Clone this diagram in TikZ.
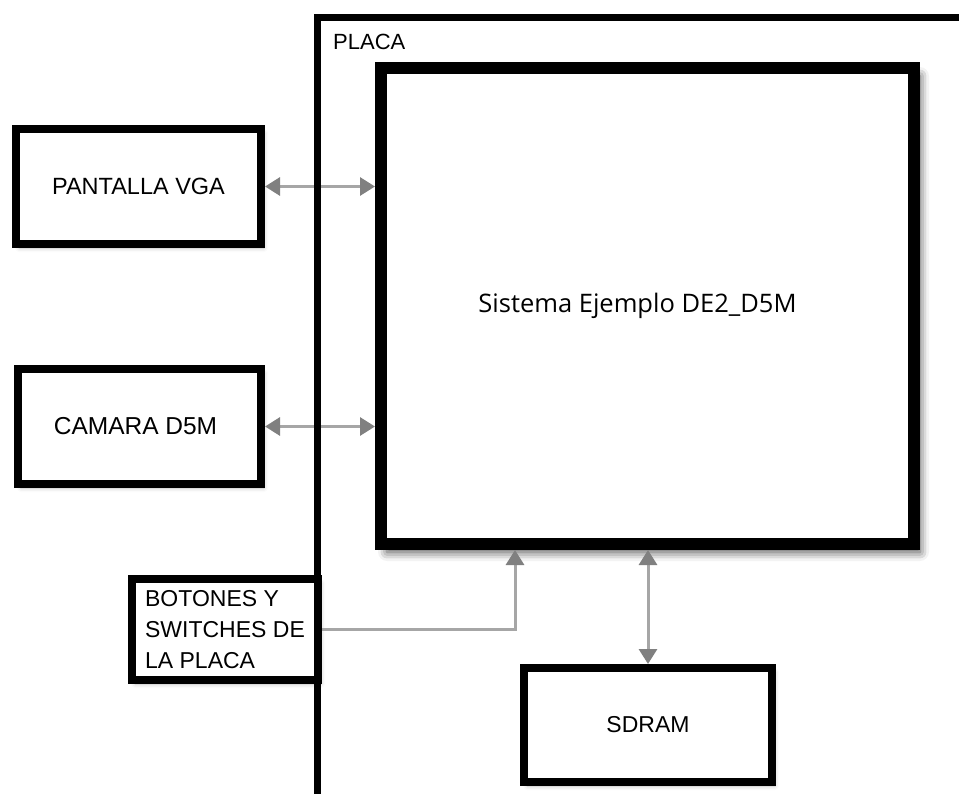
\documentclass[tikz,border=0pt]{standalone}
\usepackage{fontspec}
\setmainfont{Liberation Sans}
\newfontfamily\sistfont{Open Sans}
\usetikzlibrary{arrows.meta,shadows.blur}

\begin{document}
\begin{tikzpicture}[x=1pt, y=-1pt,
    bloque/.style={rectangle, draw=black, line width=8pt, fill=white, inner sep=0pt,
      font=\fontsize{23.5}{31}\selectfont,
      blur shadow={shadow xshift=3pt, shadow yshift=-4pt, shadow blur radius=4pt, shadow opacity=25}},
    flecha/.style={draw=black!35, line width=3pt, -{Triangle[length=15pt, width=18pt, color=black!50]}},
    dobleflecha/.style={draw=black!35, line width=3pt,
      {Triangle[length=15pt, width=18pt, color=black!50]}-{Triangle[length=15pt, width=18pt, color=black!50]}}]

  \useasboundingbox (0,0) rectangle (959,794);
  \clip (0,0) rectangle (959,794);

  % Bloque principal dentro de la placa
  \node[bloque, line width=12pt, minimum width=533pt, minimum height=476pt,
    font=\sistfont\fontsize{25.5}{30}\selectfont,
    blur shadow={shadow xshift=6pt, shadow yshift=-8pt, shadow blur radius=9pt, shadow opacity=40}]
    (sistema) at (647.5,306) {Sistema Ejemplo DE2\_D5M\hspace*{20pt}};

  % Bloques externos
  \node[bloque, minimum width=245pt, minimum height=115pt] (vga) at (138.5,186.5) {PANTALLA VGA};
  \node[bloque, minimum width=243pt, minimum height=115pt, font=\fontsize{24.5}{31}\selectfont] (camara) at (139.5,426.5)
    {\hspace*{-8pt}CAMARA D5M};
  \node[bloque, minimum width=186pt, minimum height=101pt, align=left, font=\fontsize{23}{31}\selectfont] (botones) at (225,629.5)
    {BOTONES Y\\SWITCHES DE\\LA PLACA};
  \node[bloque, minimum width=248pt, minimum height=114pt, font=\fontsize{23}{31}\selectfont] (sdram) at (648,725) {SDRAM};

  % Conexiones
  \draw[dobleflecha] (vga.east) -- (vga.east -| sistema.west);
  \draw[dobleflecha] (camara.east) -- (camara.east -| sistema.west);
  \draw[flecha] (botones.east) -| ([xshift=-132.5pt]sistema.south);
  \draw[dobleflecha] (sdram.north) -- (sdram.north |- sistema.south);

  % Borde de la placa
  \draw[line width=7pt] (317,800) |- (970,18);
  \node[anchor=west, inner sep=0pt, font=\fontsize{22}{26}\selectfont] (placa) at (333,42) {PLACA};

\end{tikzpicture}
\end{document}
